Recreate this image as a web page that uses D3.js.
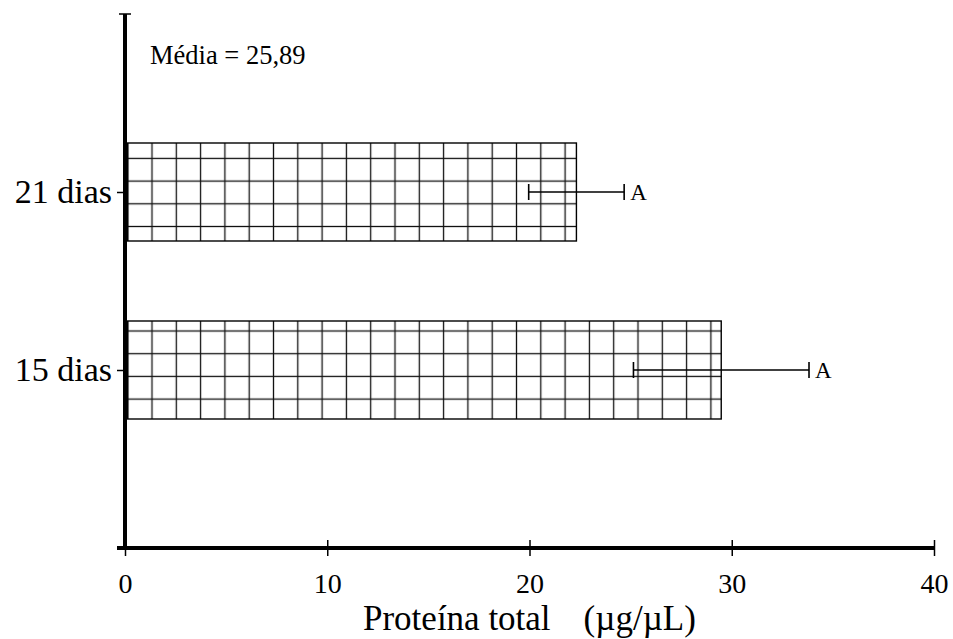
<!DOCTYPE html>
<html>
<head>
<meta charset="utf-8">
<script src="https://cdn.jsdelivr.net/npm/d3@7"></script>
<style>
  html, body { margin: 0; padding: 0; background: #fff; }
  svg { display: block; }
  text { font-family: "Liberation Serif", "Times New Roman", serif; fill: #000; }
</style>
</head>
<body>
<svg id="chart" width="953" height="639"></svg>
<script>
// ---- data ----
const categories = ["21 dias", "15 dias"];
const means = [22.32, 29.48];
const errors = [2.36, 4.34];
const letters = ["A", "A"];
const xTicks = [0, 10, 20, 30, 40];
const xTitle = "Proteína total";
const xUnit = "(µg/µL)";
const note = "Média = 25,89";

// ---- layout ----
const svg = d3.select("#chart");
const x = d3.scaleLinear().domain([0, 40]).range([125, 934]);
const y = d3.scalePoint().domain(categories).range([14, 548]).padding(1);
const barH = 98;
const barInset = 2.7;          // bar starts just right of thick axis
const cellW = 24.3, cellH = 22.7;
const gridOffsets = [15.4, 10]; // first horizontal hatch line below bar top

const rows = categories.map((c, i) => ({ c, m: means[i], e: errors[i], l: letters[i], i }));

// patterns
const defs = svg.append("defs");
rows.forEach(d => {
  const top = y(d.c) - barH / 2;
  const p = defs.append("pattern")
    .attr("id", "grid" + d.i)
    .attr("patternUnits", "userSpaceOnUse")
    .attr("x", x(0) + barInset - cellW / 2)
    .attr("y", top + gridOffsets[d.i] - cellH / 2)
    .attr("width", cellW)
    .attr("height", cellH);
  p.append("rect").attr("width", cellW).attr("height", cellH).attr("fill", "#fff");
  p.append("line").attr("x1", cellW / 2).attr("x2", cellW / 2).attr("y1", 0).attr("y2", cellH)
    .attr("stroke", "#111").attr("stroke-width", 1.3);
  p.append("line").attr("y1", cellH / 2).attr("y2", cellH / 2).attr("x1", 0).attr("x2", cellW)
    .attr("stroke", "#111").attr("stroke-width", 1.3);
});

// bars
svg.append("g").selectAll("rect").data(rows).join("rect")
  .attr("x", x(0) + barInset)
  .attr("y", d => y(d.c) - barH / 2)
  .attr("width", d => x(d.m) - x(0) - barInset)
  .attr("height", barH)
  .attr("fill", d => `url(#grid${d.i})`)
  .attr("stroke", "#000")
  .attr("stroke-width", 1.4);

// error bars
const eb = svg.append("g").attr("stroke", "#000").attr("stroke-width", 1.6);
eb.selectAll("line.h").data(rows).join("line").attr("class", "h")
  .attr("x1", d => x(d.m - d.e)).attr("x2", d => x(d.m + d.e))
  .attr("y1", d => y(d.c)).attr("y2", d => y(d.c));
eb.selectAll("line.l").data(rows).join("line").attr("class", "l")
  .attr("x1", d => x(d.m - d.e)).attr("x2", d => x(d.m - d.e))
  .attr("y1", d => y(d.c) - 8).attr("y2", d => y(d.c) + 8);
eb.selectAll("line.r").data(rows).join("line").attr("class", "r")
  .attr("x1", d => x(d.m + d.e)).attr("x2", d => x(d.m + d.e))
  .attr("y1", d => y(d.c) - 8).attr("y2", d => y(d.c) + 8);

svg.append("g").selectAll("text").data(rows).join("text")
  .attr("x", d => x(d.m + d.e) + 6)
  .attr("y", d => y(d.c) + 8)
  .attr("font-size", 23)
  .text(d => d.l);

// x axis
const xAxis = d3.axisBottom(x).tickValues(xTicks).tickSize(0).tickPadding(25).tickFormat(d3.format("d"));
const gx = svg.append("g").attr("transform", `translate(0,${y.range()[1]})`).call(xAxis);
gx.select(".domain").remove();
gx.append("line").attr("x1", x(0) - 8).attr("x2", x(40) + 1).attr("y1", 0).attr("y2", 0)
  .attr("stroke", "#000").attr("stroke-width", 4);
gx.selectAll(".tick").append("line").attr("y1", -8).attr("y2", 8)
  .attr("stroke", "#000").attr("stroke-width", 1.5);
gx.selectAll(".tick text").attr("font-size", 28).attr("font-family", "Liberation Serif, serif").attr("fill", "#000");

// y axis
const yAxis = d3.axisLeft(y).tickSize(0).tickPadding(13);
const gy = svg.append("g").attr("transform", `translate(${x(0)},0)`).call(yAxis);
gy.select(".domain").remove();
gy.append("line").attr("x1", 0).attr("x2", 0).attr("y1", y.range()[0]).attr("y2", y.range()[1] + 2)
  .attr("stroke", "#000").attr("stroke-width", 4);
gy.append("line").attr("x1", -6).attr("x2", 6).attr("y1", y.range()[0]).attr("y2", y.range()[0])
  .attr("stroke", "#000").attr("stroke-width", 1.5);
gy.selectAll(".tick").append("line").attr("x1", -8).attr("x2", 0)
  .attr("stroke", "#000").attr("stroke-width", 1.5);
gy.selectAll(".tick text").attr("font-size", 34).attr("font-family", "Liberation Serif, serif")
  .attr("fill", "#000").attr("dy", "0.32em");

// axis title
const t = svg.append("text").attr("x", 363).attr("y", 630).attr("font-size", 35);
t.append("tspan").text(xTitle);
t.append("tspan").attr("dx", 33).text(xUnit);

// note
svg.append("text").attr("x", 150).attr("y", 64).attr("font-size", 26.5).text(note);
</script>
</body>
</html>
